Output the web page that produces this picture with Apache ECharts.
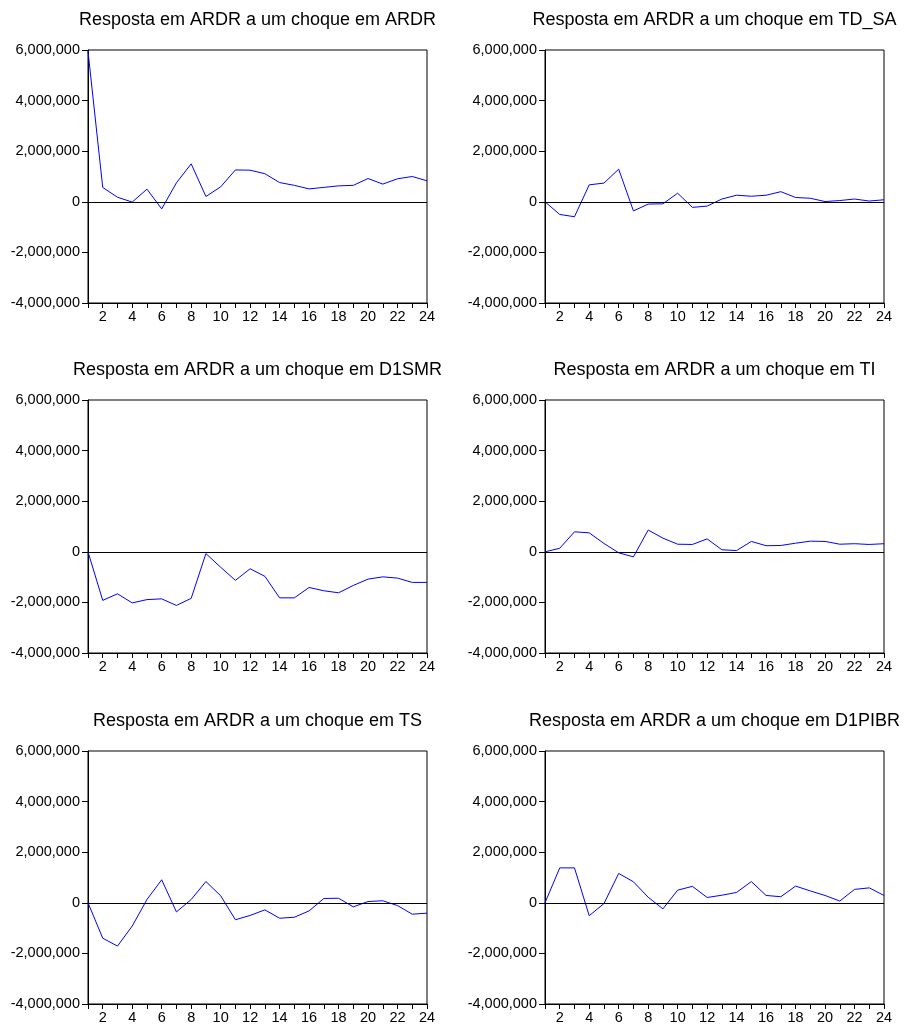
<!DOCTYPE html>
<html><head><meta charset="utf-8">
<script src="https://cdn.jsdelivr.net/npm/echarts@6/dist/echarts.min.js"></script>
<style>html,body{margin:0;padding:0;background:#fff}#c{width:905px;height:1025px}</style>
</head><body><div id="c"></div>
<script>
// ---- data ----
const periods = [1,2,3,4,5,6,7,8,9,10,11,12,13,14,15,16,17,18,19,20,21,22,23,24];
const titles = [
  'Resposta em ARDR a um choque em ARDR',
  'Resposta em ARDR a um choque em TD_SA',
  'Resposta em ARDR a um choque em D1SMR',
  'Resposta em ARDR a um choque em TI',
  'Resposta em ARDR a um choque em TS',
  'Resposta em ARDR a um choque em D1PIBR'
];
const yTicks = [-4000000, -2000000, 0, 2000000, 4000000, 6000000];
const respARDR  = [5950000, 567000, 180000, -10000, 500000, -280000, 750000, 1500000, 210000, 590000, 1260000, 1250000, 1110000, 760000, 650000, 510000, 570000, 630000, 650000, 920000, 700000, 910000, 1000000, 830000];
const respTDSA  = [0, -500000, -590000, 670000, 740000, 1290000, -360000, -90000, -80000, 340000, -220000, -170000, 110000, 260000, 220000, 260000, 400000, 170000, 140000, 10000, 50000, 110000, 30000, 80000];
const respD1SMR = [0, -1920000, -1660000, -2020000, -1890000, -1860000, -2120000, -1840000, -70000, -610000, -1130000, -670000, -970000, -1820000, -1820000, -1410000, -1540000, -1620000, -1330000, -1080000, -990000, -1040000, -1210000, -1210000];
const respTI    = [0, 140000, 790000, 750000, 330000, -40000, -200000, 860000, 540000, 300000, 290000, 510000, 80000, 50000, 410000, 240000, 250000, 340000, 420000, 410000, 300000, 320000, 290000, 320000];
const respTS    = [0, -1400000, -1710000, -920000, 130000, 910000, -360000, 130000, 840000, 280000, -670000, -500000, -280000, -610000, -570000, -320000, 170000, 180000, -160000, 50000, 80000, -110000, -450000, -410000];
const respD1PIBR= [0, 1380000, 1380000, -510000, -30000, 1160000, 830000, 220000, -240000, 500000, 650000, 210000, 300000, 410000, 840000, 290000, 240000, 660000, 470000, 290000, 70000, 530000, 590000, 290000];
const allSeries = [respARDR, respTDSA, respD1SMR, respTI, respTS, respD1PIBR];

// ---- layout ----
const colLeft = [88, 545];
const rowTop = [50, 400, 751];
const plotW = 339, plotH = 253;
const FONT = '"Liberation Sans", Arial, sans-serif';

const fmt = v => (v < 0 ? '-' : '') + Math.abs(v).toString().replace(/\B(?=(\d{3})+(?!\d))/g, ',');

const grids = [], xAxes = [], yAxes = [], series = [], graphics = [];
allSeries.forEach((vals, i) => {
  const col = i % 2, row = Math.floor(i / 2);
  const left = colLeft[col], top = rowTop[row];
  grids.push({left: left, top: top, width: plotW, height: plotH, show: true,
    borderColor: '#000', borderWidth: 1, backgroundColor: 'transparent', containLabel: false});
  xAxes.push({type: 'value', gridIndex: i, min: periods[0], max: periods[periods.length - 1], interval: 1,
    axisLine: {show: true, onZero: false, lineStyle: {color: '#000', width: 1}},
    axisTick: {show: true, inside: false, length: 5, lineStyle: {color: '#000'}},
    axisLabel: {show: true, margin: 6, color: '#000', fontSize: 14.5, fontFamily: FONT,
      formatter: v => (v % 2 === 0 ? String(v) : '')},
    splitLine: {show: false}});
  yAxes.push({type: 'value', gridIndex: i, min: yTicks[0], max: yTicks[yTicks.length - 1],
    interval: yTicks[1] - yTicks[0],
    axisLine: {show: true, onZero: false, lineStyle: {color: '#000', width: 1}},
    axisTick: {show: true, inside: false, length: 6, lineStyle: {color: '#000'}},
    axisLabel: {show: true, margin: 8, color: '#000', fontSize: 14.5, fontFamily: FONT, formatter: fmt},
    splitLine: {show: false}});
  series.push({type: 'line', xAxisIndex: i, yAxisIndex: i,
    data: periods.map((p, k) => [p, vals[k]]),
    symbol: 'none', showSymbol: false, animation: false, silent: true,
    lineStyle: {color: '#0000ff', width: 1},
    markLine: {silent: true, symbol: ['none', 'none'], animation: false, label: {show: false},
      lineStyle: {color: '#000', width: 1, type: 'solid'}, data: [{yAxis: 0}]}});
  graphics.push({type: 'text', left: left + plotW / 2, top: top - 40,
    style: {text: titles[i], x: 0, y: 0, align: 'center', verticalAlign: 'top', fill: '#000',
      font: '18px ' + FONT}});
});

const chart = echarts.init(document.getElementById('c'), null, {renderer: 'canvas'});
chart.setOption({
  backgroundColor: '#fff',
  animation: false,
  grid: grids, xAxis: xAxes, yAxis: yAxes, series: series
});
// titles drawn as graphic text, centered on each plot
chart.setOption({graphic: allSeries.map((v, i) => {
  const col = i % 2, row = Math.floor(i / 2);
  return {type: 'text', x: colLeft[col] + plotW / 2, y: rowTop[row] - 30,
    style: {text: titles[i], textAlign: 'center', textVerticalAlign: 'middle', align: 'center', verticalAlign: 'middle',
      fill: '#000', fontSize: 18, fontFamily: FONT}};
})});
</script>
</body></html>
